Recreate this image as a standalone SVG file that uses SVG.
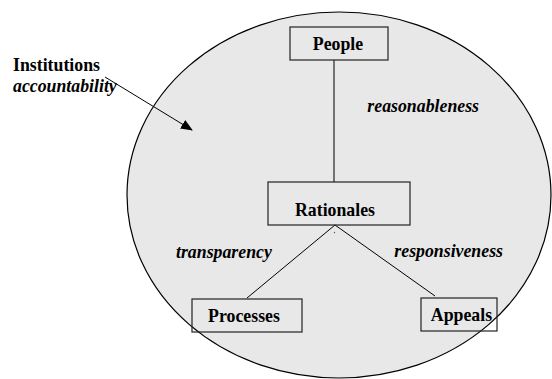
<svg xmlns="http://www.w3.org/2000/svg" width="552" height="379" viewBox="0 0 552 379">
  <style>
    .lbl { font-family: "Liberation Serif", Tinos, "Times New Roman", Times, "DejaVu Serif", serif; font-size: 17.8px; font-weight: bold; fill: #000; }
    .it { font-style: italic; }
    .box { fill: none; stroke: #222; stroke-width: 1.2; }
    .edge { stroke: #000; stroke-width: 1; fill: none; }
  </style>
  <defs>
    <marker id="arrowhead" markerWidth="12" markerHeight="10" refX="11" refY="5" orient="auto" markerUnits="userSpaceOnUse">
      <path d="M0,0 L12,5 L0,10 Z" fill="#000"/>
    </marker>
  </defs>

  <!-- institutional boundary -->
  <ellipse cx="339" cy="195" rx="212" ry="183" fill="#e8e8e8" stroke="#000" stroke-width="1.2"/>

  <!-- connectors -->
  <g id="connectors">
    <line class="edge" x1="334" y1="60" x2="334" y2="182"/>
    <line class="edge" x1="335" y1="225" x2="247" y2="298"/>
    <line class="edge" x1="335" y1="225" x2="435" y2="296"/>
    <line class="edge" x1="105" y1="77" x2="192" y2="130" marker-end="url(#arrowhead)"/>
  </g>
  <circle cx="334.5" cy="232.5" r="0.7" fill="#555"/>

  <!-- edge labels -->
  <text class="lbl it" x="479" y="112" text-anchor="end">reasonableness</text>
  <text class="lbl it" x="176" y="258">transparency</text>
  <text class="lbl it" x="503" y="257" text-anchor="end">responsiveness</text>

  <g id="institutions">
    <text class="lbl" x="13" y="71">Institutions</text>
    <text class="lbl it" x="13" y="92">accountability</text>
  </g>

  <g id="people">
    <rect class="box" x="290" y="27" width="98" height="33"/>
    <text class="lbl" x="338" y="50" text-anchor="middle">People</text>
  </g>

  <g id="rationales">
    <rect class="box" x="268" y="182" width="142" height="43"/>
    <text class="lbl" x="335" y="216" text-anchor="middle">Rationales</text>
  </g>

  <g id="processes">
    <rect class="box" x="192" y="299" width="110" height="33"/>
    <text class="lbl" x="244" y="321.5" text-anchor="middle">Processes</text>
  </g>

  <g id="appeals">
    <rect class="box" x="421" y="298" width="76" height="33"/>
    <text class="lbl" x="461.5" y="321" text-anchor="middle">Appeals</text>
  </g>
</svg>
